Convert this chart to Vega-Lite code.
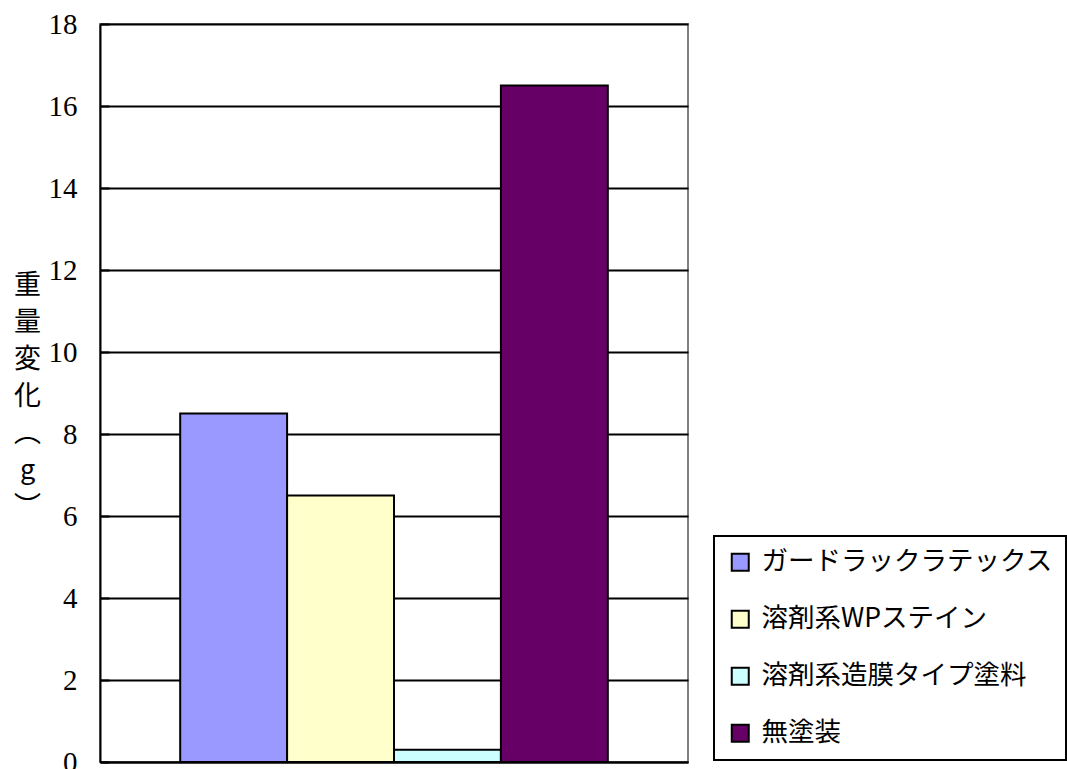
{
  "$schema": "https://vega.github.io/schema/vega-lite/v6.json",
  "autosize": {"type": "none"},
  "width": 588,
  "height": 738,
  "padding": {"left": 100, "top": 24, "right": 379, "bottom": 7},
  "background": "white",
  "config": {
    "view": {"stroke": "#808080", "strokeWidth": 2},
    "font": "Liberation Serif",
    "legend": {"strokeWidth": 2}
  },
  "data": {
    "values": [
      {"name": "ガードラックラテックス", "value": 8.5},
      {"name": "溶剤系WPステイン", "value": 6.5},
      {"name": "溶剤系造膜タイプ塗料", "value": 0.3},
      {"name": "無塗装", "value": 16.5}
    ]
  },
  "mark": {"type": "bar", "stroke": "black", "strokeWidth": 2},
  "encoding": {
    "x": {
      "field": "name",
      "type": "nominal",
      "sort": null,
      "scale": {"paddingInner": 0, "paddingOuter": 0.75},
      "axis": {"labels": false, "ticks": false, "title": null, "domainColor": "black", "domainWidth": 2}
    },
    "y": {
      "field": "value",
      "type": "quantitative",
      "scale": {"domain": [0, 18], "nice": false},
      "axis": {
        "values": [0, 2, 4, 6, 8, 10, 12, 14, 16, 18],
        "domainColor": "black",
        "domainWidth": 2,
        "gridColor": "black",
        "gridWidth": 2,
        "gridOpacity": 1,
        "tickColor": "black",
        "tickWidth": 2,
        "tickSize": -9,
        "labelFont": "Liberation Serif",
        "labelFontSize": 29,
        "labelColor": "black",
        "labelPadding": 32,
        "title": ["重", "量", "変", "化", "︵", "g", "︶"],
        "titleFont": "Noto Sans CJK JP",
        "titleFontWeight": "normal",
        "titleFontSize": 27,
        "titleLineHeight": 37,
        "titleColor": "black",
        "titleAngle": 0,
        "titleAlign": "center",
        "titleBaseline": "top",
        "titleX": -73,
        "titleY": 248
      }
    },
    "fill": {
      "field": "name",
      "type": "nominal",
      "sort": null,
      "scale": {
        "domain": ["ガードラックラテックス", "溶剤系WPステイン", "溶剤系造膜タイプ塗料", "無塗装"],
        "range": ["#9999FF", "#FFFFCC", "#CCFFFF", "#660066"]
      },
      "legend": {
        "title": null,
        "orient": "none",
        "legendX": 614,
        "legendY": 512,
        "strokeColor": "black",
        "fillColor": "white",
        "padding": 13,
        "symbolType": "square",
        "symbolSize": 289,
        "symbolStrokeColor": "black",
        "symbolStrokeWidth": 2,
        "symbolOpacity": 1,
        "labelFont": "Noto Sans CJK JP",
        "labelFontSize": 26.5,
        "labelColor": "black",
        "labelOffset": 8,
        "labelLimit": 400,
        "rowPadding": 30
      }
    }
  }
}
